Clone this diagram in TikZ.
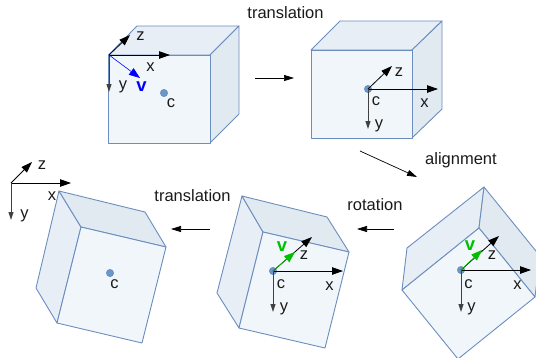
\documentclass[tikz,border=0pt]{standalone}
\usepackage{fontspec}
\setmainfont{Liberation Sans}
\usetikzlibrary{arrows.meta}
\definecolor{edgeblue}{HTML}{6C8EBF}
\definecolor{frontfill}{HTML}{F1F6FB}
\definecolor{lightfill}{HTML}{E7EEF6}
\definecolor{darkfill}{HTML}{E1E9F1}
\definecolor{dotblue}{HTML}{6A96C8}
\definecolor{vgreen}{HTML}{00C000}
\definecolor{txt}{HTML}{1A1A1A}
\tikzset{
 face/.style={draw=edgeblue,line width=0.9pt,line join=round},
 front/.style={face,fill=frontfill},
 lightface/.style={face,fill=lightfill},
 darkface/.style={face,fill=darkfill},
 lbl/.style={font=\fontsize{16.5}{19}\selectfont,text=txt,inner sep=0pt},
 vlbl/.style={font=\fontsize{18.5}{20}\selectfont\bfseries,inner sep=0pt},
 dot/.style={circle,fill=dotblue,draw=dotblue!85!black,line width=0.3pt,minimum size=7.5pt,inner sep=0pt},
 bigaxis/.style={draw=black,line width=0.8pt,-{Triangle[length=11pt,width=7.5pt]}},
 smallaxis/.style={draw=black!75,line width=0.9pt,-{Triangle[length=8pt,width=5pt]}},
 flow/.style={draw=black,line width=0.7pt,-{Triangle[length=10pt,width=6pt]}},
 bluev/.style={draw=blue,line width=0.6pt,-{Triangle[length=11pt,width=8pt]}},
 greenv/.style={draw=vgreen,line width=0.7pt,-{Triangle[length=11pt,width=8pt]}},
}
\begin{document}
\begin{tikzpicture}[x=1pt,y=-1pt]
\useasboundingbox (0,0) rectangle (536,357);
\clip (0,0) rectangle (536,357);
% cube 1
\path[lightface] (108.5,55) -- (137,26) -- (239,26) -- (210,55) -- cycle;
\path[darkface] (210,55) -- (239,26) -- (239,114) -- (210,143) -- cycle;
\path[front] (108.5,55) rectangle (210,143);
\node[dot] (c1) at (164,93) {};
\coordinate (o1) at (109,55);
\coordinate (x1) at (170,55);
\coordinate (y1) at (109,92);
\coordinate (z1) at (130,35);
\coordinate (v1) at (140,78);
\draw[bigaxis] (o1) -- (x1);
\draw[bigaxis] (o1) -- (z1);
\draw[smallaxis] (o1) -- (y1);
\draw[bluev] (o1) -- (v1);
\node[lbl] (lx1) at (150.5,67.5) {x};
\node[lbl] (ly1) at (123,87) {y};
\node[lbl] (lz1) at (140.5,36.5) {z};
\node[vlbl,text=blue] (lv1) at (141.5,86.5) {v};
\node[lbl] (lc1) at (171,103.5) {c};
% cube 2
\path[lightface] (311,50) -- (340,21) -- (442,21) -- (412,50) -- cycle;
\path[darkface] (412,50) -- (442,21) -- (442,109) -- (412,138) -- cycle;
\path[front] (311,50) rectangle (412,138);
\node[dot] (c2) at (368,89) {};
\coordinate (x2) at (438,89);
\coordinate (y2) at (368,129);
\coordinate (z2) at (392,66);
\draw[bigaxis] (c2.center) -- (x2);
\draw[bigaxis] (c2.center) -- (z2);
\draw[smallaxis] (c2.center) -- (y2);
\node[lbl] (lx2) at (424.5,103) {x};
\node[lbl] (ly2) at (379,126) {y};
\node[lbl] (lz2) at (399,72) {z};
\node[lbl] (lc2) at (376,101) {c};
% cube 3
\path[lightface] (402,290) -- (407,248) -- (484,187) -- (479,228) -- cycle;
\path[darkface] (479,228) -- (484,187) -- (540,256) -- (535,297) -- cycle;
\path[front] (402,290) -- (479,228) -- (535,297) -- (458,359) -- cycle;
\node[dot] (c3) at (461,270) {};
\coordinate (x3) at (531,270);
\coordinate (y3) at (461,312);
\coordinate (z3) at (499,236);
\coordinate (v3) at (482,250);
\draw[bigaxis] (c3.center) -- (x3);
\draw[bigaxis] (c3.center) -- (z3);
\draw[smallaxis] (c3.center) -- (y3);
\draw[greenv] (c3.center) -- (v3);
\node[lbl] (lx3) at (517.5,285) {x};
\node[lbl] (ly3) at (471.5,309) {y};
\node[lbl] (lz3) at (492,255) {z};
\node[vlbl,text=vgreen] (lv3) at (470,246) {v};
\node[lbl] (lc3) at (468.5,284) {c};
% cube 4
\path[lightface] (239,328) -- (217,293) -- (242,196) -- (263,232) -- cycle;
\path[darkface] (263,232) -- (242,196) -- (327,217) -- (349,252) -- cycle;
\path[front] (263,232) -- (349,252) -- (325,348) -- (239,328) -- cycle;
\node[dot] (c4) at (273,271) {};
\coordinate (x4) at (343,271);
\coordinate (y4) at (273,312);
\coordinate (z4) at (312,237);
\coordinate (v4) at (295,252);
\draw[bigaxis] (c4.center) -- (x4);
\draw[bigaxis] (c4.center) -- (z4);
\draw[smallaxis] (c4.center) -- (y4);
\draw[greenv] (c4.center) -- (v4);
\node[lbl] (lx4) at (329.5,286) {x};
\node[lbl] (ly4) at (284,309) {y};
\node[lbl] (lz4) at (304,255) {z};
\node[vlbl,text=vgreen] (lv4) at (282,247) {v};
\node[lbl] (lc4) at (281,284) {c};
% cube 5
\path[lightface] (57,323) -- (36,288) -- (59,191) -- (81,227) -- cycle;
\path[darkface] (81,227) -- (59,191) -- (145,212) -- (166,247) -- cycle;
\path[front] (81,227) -- (166,247) -- (142,343) -- (57,323) -- cycle;
\node[dot] (c5) at (110,273) {};
\node[lbl] (lc5) at (114.5,284) {c};
% axes
\coordinate (o5) at (11,183);
\coordinate (x5) at (71,183);
\coordinate (y5) at (11,220);
\coordinate (z5) at (32,162);
\draw[bigaxis] (o5) -- (x5);
\draw[bigaxis] (o5) -- (z5);
\draw[smallaxis] (o5) -- (y5);
\node[lbl] (lx5) at (52,196) {x};
\node[lbl] (ly5) at (24.5,216) {y};
\node[lbl] (lz5) at (42,165) {z};
% flow arrows and labels
\node[lbl] (t1) at (285.5,13) {translation};
\node[lbl] (al) at (461,160) {alignment};
\node[lbl] (ro) at (375,205) {rotation};
\node[lbl] (t2) at (192.5,196) {translation};
\coordinate (a1s) at (255,78);
\coordinate (a1e) at (294,78);
\coordinate (a2s) at (360,151);
\coordinate (a2e) at (417,177);
\coordinate (a3s) at (394,229);
\coordinate (a3e) at (357,229);
\coordinate (a4s) at (210,229);
\coordinate (a4e) at (171,229);
\draw[flow] (a1s) -- (a1e);
\draw[flow] (a2s) -- (a2e);
\draw[flow] (a3s) -- (a3e);
\draw[flow] (a4s) -- (a4e);
\end{tikzpicture}
\end{document}
